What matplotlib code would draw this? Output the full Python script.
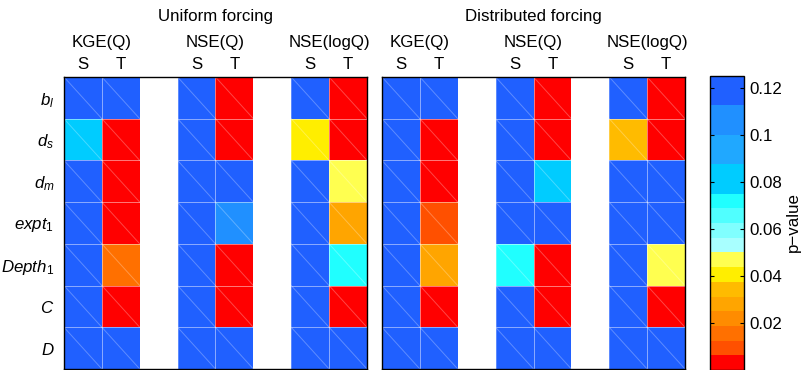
import numpy as np
import matplotlib
matplotlib.use("Agg")
import matplotlib.pyplot as plt
from matplotlib.colors import ListedColormap, BoundaryNorm
from matplotlib.colorbar import ColorbarBase
import matplotlib.transforms as mtransforms

plt.rcParams['font.family'] = ['Liberation Sans', 'DejaVu Sans']
plt.rcParams['mathtext.fontset'] = 'custom'
plt.rcParams['mathtext.rm'] = 'Liberation Sans'
plt.rcParams['mathtext.it'] = 'Liberation Sans:italic'

# Parameters (rows) and objective functions (column groups)
params = [r'$b_l$', r'$d_s$', r'$d_m$', r'$\mathit{expt}_\mathit{1}$',
          r'$\mathit{Depth}_\mathit{1}$', r'$C$', r'$D$']
metrics = ['KGE(Q)', 'NSE(Q)', 'NSE(logQ)']
subcols = ['S', 'T']
panel_titles = ['Uniform forcing', 'Distributed forcing']

# p-values, uniform forcing
uniform_kge_s = [0.12, 0.08, 0.12, 0.12, 0.12, 0.12, 0.12]
uniform_kge_t = [0.12, 0.002, 0.002, 0.002, 0.015, 0.002, 0.12]
uniform_nse_s = [0.12, 0.12, 0.12, 0.12, 0.12, 0.12, 0.12]
uniform_nse_t = [0.002, 0.002, 0.12, 0.105, 0.002, 0.002, 0.12]
uniform_log_s = [0.12, 0.04, 0.12, 0.12, 0.12, 0.12, 0.12]
uniform_log_t = [0.002, 0.002, 0.047, 0.028, 0.072, 0.002, 0.12]

# p-values, distributed forcing
distrib_kge_s = [0.12, 0.12, 0.12, 0.12, 0.12, 0.12, 0.12]
distrib_kge_t = [0.12, 0.002, 0.002, 0.01, 0.028, 0.002, 0.12]
distrib_nse_s = [0.12, 0.12, 0.12, 0.12, 0.072, 0.12, 0.12]
distrib_nse_t = [0.002, 0.002, 0.08, 0.12, 0.002, 0.002, 0.12]
distrib_log_s = [0.12, 0.034, 0.12, 0.12, 0.12, 0.12, 0.12]
distrib_log_t = [0.002, 0.002, 0.12, 0.12, 0.047, 0.002, 0.12]

# colour scale for p-values
bounds = [0.0, 0.00625, 0.0125, 0.01875, 0.025, 0.03125, 0.0375, 0.04375,
          0.05, 0.05625, 0.0625, 0.06875, 0.075, 0.0875, 0.1, 0.1125, 0.125]
colors = ['#FF0000', '#FF5000', '#FF7000', '#FF8C00', '#FFA500', '#FFBB00',
          '#FFEE00', '#FFFF50', '#A8FFFF', '#80FFFF', '#50FFFF', '#20FFFF',
          '#00CCFF', '#20A8FF', '#2090FF', '#2060FF']
cbar_ticks = [0.02, 0.04, 0.06, 0.08, 0.1, 0.12]
cbar_ticklabels = ['0.02', '0.04', '0.06', '0.08', '0.1', '0.12']

cmap = ListedColormap(colors)
cmap.set_bad('white')
norm = BoundaryNorm(bounds, cmap.N)


def build_matrix(cols):
    """Stack S/T pairs with an empty column between metric groups."""
    n = len(params)
    blocks = []
    for i, (s, t) in enumerate(cols):
        blocks.append(np.array(s))
        blocks.append(np.array(t))
        if i < len(cols) - 1:
            blocks.append(np.full(n, np.nan))
    return np.column_stack(blocks)


panels = [
    build_matrix([(uniform_kge_s, uniform_kge_t),
                  (uniform_nse_s, uniform_nse_t),
                  (uniform_log_s, uniform_log_t)]),
    build_matrix([(distrib_kge_s, distrib_kge_t),
                  (distrib_nse_s, distrib_nse_t),
                  (distrib_log_s, distrib_log_t)]),
]

W, H = 803, 370
fig = plt.figure(figsize=(W / 100, H / 100), dpi=100)
FS = 12.2

ax_lefts = [64, 382]
axes = []
for k, (left, mat) in enumerate(zip(ax_lefts, panels)):
    ax = fig.add_axes([left / W, 1 / H, 303 / W, 292 / H])
    axes.append(ax)
    nrow, ncol = mat.shape
    ax.pcolormesh(np.arange(ncol + 1), np.arange(nrow + 1),
                  np.ma.masked_invalid(mat), cmap=cmap, norm=norm)
    ax.set_xlim(0, ncol)
    ax.set_ylim(nrow, 0)

    # triangle edges of each filled cell
    for r in range(nrow):
        for c in range(ncol):
            if np.isnan(mat[r, c]):
                continue
            ax.plot([c, c + 1, c + 1, c, c], [r, r, r + 1, r + 1, r],
                    color='white', alpha=0.28, lw=0.7, solid_capstyle='butt')
            ax.plot([c, c + 1], [r, r + 1], color='white', alpha=0.28, lw=0.7)

    ax.set_xticks([])
    if k == 0:
        ax.set_yticks(np.arange(nrow) + 0.5)
        ax.set_yticklabels(params, fontsize=FS)
        ax.tick_params(axis='y', length=0, pad=7)
    else:
        ax.set_yticks([])
    for sp in ax.spines.values():
        sp.set_linewidth(1.0)
        sp.set_color('black')

    trans = mtransforms.blended_transform_factory(ax.transData, ax.transAxes)
    col = 0
    for i, m in enumerate(metrics):
        ax.text(col + 1, 1.104, m, transform=trans, ha='center',
                va='baseline', fontsize=FS)
        for j, s in enumerate(subcols):
            ax.text(col + j + 0.5, 1.026, s, transform=trans, ha='center',
                    va='baseline', fontsize=FS)
        col += 3
    ax.text(0.5, 1.192, panel_titles[k], transform=ax.transAxes,
            ha='center', va='baseline', fontsize=FS)

# colour bar
cax = fig.add_axes([710 / W, 0 / H, 34 / W, 294 / H])
cb = ColorbarBase(cax, cmap=cmap, norm=norm, boundaries=bounds,
                  spacing='proportional', ticks=cbar_ticks)
cb.minorticks_off()
cb.ax.set_yticklabels(cbar_ticklabels, fontsize=FS)
cb.outline.set_linewidth(1.0)
cax.yaxis.set_ticks_position('both')
cax.tick_params(axis='y', which='major', direction='in', length=3, width=0.8,
                labelleft=False, labelright=True, pad=4)
cax.tick_params(axis='y', which='minor', length=0)
fig.text(786 / W, 1 - 222 / H, 'p\u2212value', rotation=90, ha='left',
         va='center', fontsize=FS)

fig.savefig('out.png', dpi=100)
